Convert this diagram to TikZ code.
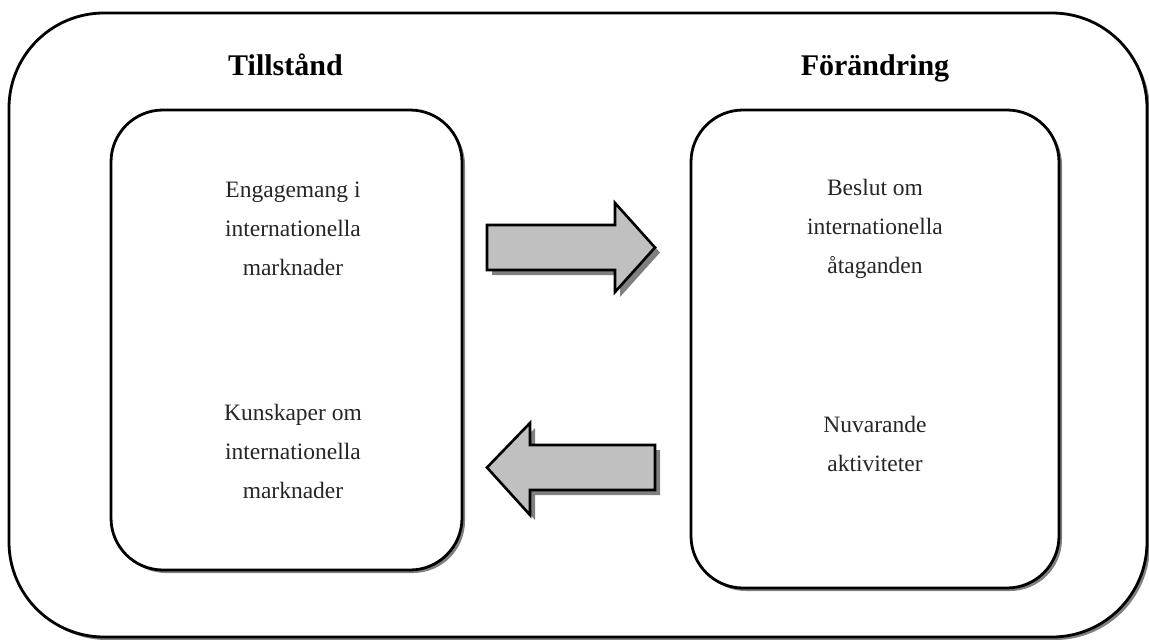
\documentclass[tikz,border=0pt]{standalone}
\usepackage{fontspec}
\setmainfont{Liberation Serif}
\usetikzlibrary{shadows}
\definecolor{arrowgray}{HTML}{C0C0C0}
\definecolor{shadowgray}{HTML}{808080}
\begin{document}
\begin{tikzpicture}[x=1pt,y=-1pt,
  frame/.style={draw=black, line width=2.8pt, fill=white, rounded corners=#1,
    drop shadow={shadow xshift=3pt, shadow yshift=-3pt, fill=shadowgray, opacity=1}},
  title/.style={font=\fontsize{30}{36}\selectfont\bfseries, anchor=base},
  body/.style={font=\fontsize{23.5}{39}\selectfont, align=center, text=black!85},
  blockarrow/.style={draw=black, line width=2.6pt, fill=arrowgray, line join=miter},
  arrowshadow/.style={fill=shadowgray}]
\useasboundingbox (0,0) rectangle (1149,640);
% outer frame
\node[frame=95pt, minimum width=1138pt, minimum height=624pt] (outer) at (578,325) {};
% inner boxes
\node[frame=52pt, minimum width=351pt, minimum height=460pt] (state) at (286.5,340) {};
\node[frame=52pt, minimum width=368pt, minimum height=478pt] (change) at (875,349) {};
% titles
\node[title] (t1) at (285.5,75) {Tillstånd};
\node[title] (t2) at (875,75) {Förändring};
% texts
\node[body] (s1) at (293,229) {Engagemang i\\internationella\\marknader};
\node[body] (s2) at (293,451) {Kunskaper om\\internationella\\marknader};
\node[body] (c1) at (875,229) {Beslut om\\internationella\\åtaganden};
\node[body] (c2) at (875,444) {Nuvarande\\aktiviteter};
% right block arrow
\fill[arrowshadow, shift={(5,5)}] (487,225) -- (615,225) -- (615,203) -- (655,247.5) -- (615,292) -- (615,270) -- (487,270) -- cycle;
\draw[blockarrow] (487,225) -- (615,225) -- (615,203) -- (655,247.5) -- (615,292) -- (615,270) -- (487,270) -- cycle;
% left block arrow
\fill[arrowshadow, shift={(5,5)}] (655,445) -- (530,445) -- (530,423) -- (487,467.5) -- (530,515) -- (530,490) -- (655,490) -- cycle;
\draw[blockarrow] (655,445) -- (530,445) -- (530,423) -- (487,467.5) -- (530,515) -- (530,490) -- (655,490) -- cycle;
\end{tikzpicture}
\end{document}
